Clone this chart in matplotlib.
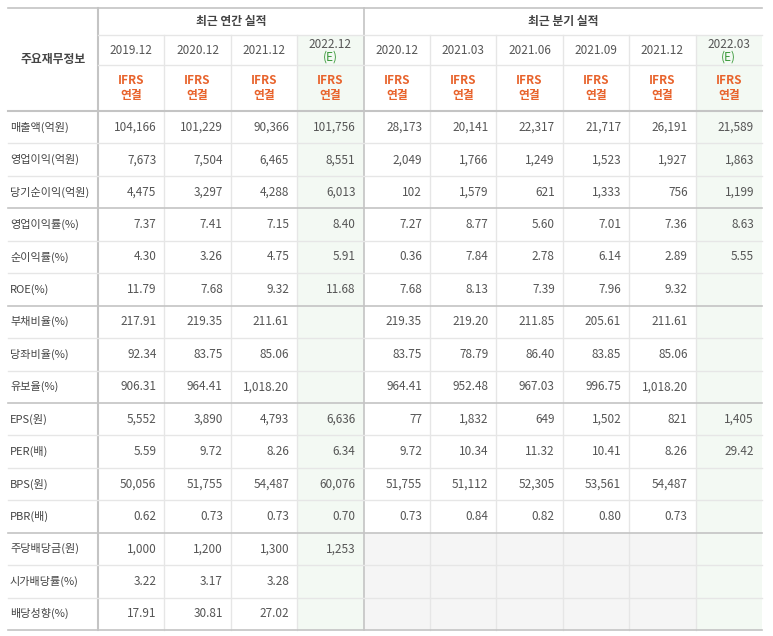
import matplotlib
matplotlib.use("Agg")
import matplotlib.pyplot as plt
from matplotlib import font_manager
from matplotlib.patches import Rectangle

# pick whichever CJK family is actually registered
available = {f.name for f in font_manager.fontManager.ttflist}
cjk = [n for n in ["Noto Sans CJK KR", "Noto Sans CJK JP", "Noto Sans CJK SC", "Noto Sans CJK TC"]
       if n in available]
if not cjk:
    cjk = [f.name for f in font_manager.fontManager.ttflist if "CJK" in f.name][:1]
plt.rcParams["font.family"] = cjk + ["DejaVu Sans"]

annual_periods = ["2019.12", "2020.12", "2021.12", "2022.12"]
quarter_periods = ["2020.12", "2021.03", "2021.06", "2021.09", "2021.12", "2022.03"]
estimate_cols = [3, 9]

row_labels = ["매출액(억원)", "영업이익(억원)", "당기순이익(억원)", "영업이익률(%)", "순이익률(%)",
              "ROE(%)", "부채비율(%)", "당좌비율(%)", "유보율(%)", "EPS(원)", "PER(배)",
              "BPS(원)", "PBR(배)", "주당배당금(원)", "시가배당률(%)", "배당성향(%)"]

values = [
    ["104,166", "101,229", "90,366", "101,756", "28,173", "20,141", "22,317", "21,717", "26,191", "21,589"],
    ["7,673", "7,504", "6,465", "8,551", "2,049", "1,766", "1,249", "1,523", "1,927", "1,863"],
    ["4,475", "3,297", "4,288", "6,013", "102", "1,579", "621", "1,333", "756", "1,199"],
    ["7.37", "7.41", "7.15", "8.40", "7.27", "8.77", "5.60", "7.01", "7.36", "8.63"],
    ["4.30", "3.26", "4.75", "5.91", "0.36", "7.84", "2.78", "6.14", "2.89", "5.55"],
    ["11.79", "7.68", "9.32", "11.68", "7.68", "8.13", "7.39", "7.96", "9.32", ""],
    ["217.91", "219.35", "211.61", "", "219.35", "219.20", "211.85", "205.61", "211.61", ""],
    ["92.34", "83.75", "85.06", "", "83.75", "78.79", "86.40", "83.85", "85.06", ""],
    ["906.31", "964.41", "1,018.20", "", "964.41", "952.48", "967.03", "996.75", "1,018.20", ""],
    ["5,552", "3,890", "4,793", "6,636", "77", "1,832", "649", "1,502", "821", "1,405"],
    ["5.59", "9.72", "8.26", "6.34", "9.72", "10.34", "11.32", "10.41", "8.26", "29.42"],
    ["50,056", "51,755", "54,487", "60,076", "51,755", "51,112", "52,305", "53,561", "54,487", ""],
    ["0.62", "0.73", "0.73", "0.70", "0.73", "0.84", "0.82", "0.80", "0.73", ""],
    ["1,000", "1,200", "1,300", "1,253", None, None, None, None, None, None],
    ["3.22", "3.17", "3.28", "", None, None, None, None, None, None],
    ["17.91", "30.81", "27.02", "", None, None, None, None, None, None],
]
group_breaks = [3, 6, 9, 13]

fig = plt.figure(figsize=(7.73, 6.36), dpi=100)
ax = fig.add_axes([0, 0, 1, 1])
ax.set_xlim(0, 773)
ax.set_ylim(636, 0)
ax.axis("off")

x0, xl, xe = 8, 98, 762
cw = (xe - xl) / 10
col_x = [xl + i * cw for i in range(11)]
y_top, y_h1, y_h2, y_data = 8, 35, 65, 111
rh = (630 - y_data) / len(row_labels)
y_end = y_data + rh * len(row_labels)

green = "#f3f9f3"
line = "#e6e6e6"
dark = "#c4c4c4"
text = "#555555"
orange = "#e8632c"

# shading
for c in estimate_cols:
    ax.add_patch(Rectangle((col_x[c], y_h1), cw, y_end - y_h1, color=green, lw=0))
for r, row in enumerate(values):
    for c, v in enumerate(row):
        if v is None and c not in estimate_cols:
            ax.add_patch(Rectangle((col_x[c], y_data + r * rh), cw, rh, color="#f5f5f5", lw=0))

# grid lines
for c in range(1, 10):
    if c != 4:
        ax.plot([col_x[c]] * 2, [y_h1, y_end], color=line, lw=1)
ax.plot([col_x[0]] * 2, [y_top, y_end], color=dark, lw=1.5)
ax.plot([col_x[4]] * 2, [y_top, y_end], color=dark, lw=1.2)
ax.plot([xl, xe], [y_h1, y_h1], color=line, lw=1)
ax.plot([xl, xe], [y_h2, y_h2], color=line, lw=1)
ax.plot([x0, xe], [y_top, y_top], color=dark, lw=1.2)
ax.plot([x0, xe], [y_data, y_data], color=dark, lw=1.5)
ax.plot([x0, xe], [y_end, y_end], color=dark, lw=1.2)
for r in range(1, len(row_labels)):
    y = y_data + r * rh
    if r in group_breaks:
        ax.plot([x0, xe], [y, y], color=dark, lw=1.2)
    else:
        ax.plot([x0, xe], [y, y], color=line, lw=1)

# headers
ax.text((x0 + xl) / 2, (y_top + y_data) / 2, "주요재무정보", ha="center", va="center",
        fontsize=8.5, fontweight="bold", color="#444444")
ax.text((col_x[0] + col_x[4]) / 2, (y_top + y_h1) / 2, "최근 연간 실적", ha="center", va="center",
        fontsize=8.5, fontweight="bold", color="#444444")
ax.text((col_x[4] + col_x[10]) / 2, (y_top + y_h1) / 2, "최근 분기 실적", ha="center", va="center",
        fontsize=8.5, fontweight="bold", color="#444444")
periods = annual_periods + quarter_periods
for c, p in enumerate(periods):
    cx = col_x[c] + cw / 2
    if c in estimate_cols:
        ax.text(cx, y_h1 + 10, p, ha="center", va="center", fontsize=8.5, color=text)
        ax.text(cx, y_h1 + 22, "(E)", ha="center", va="center", fontsize=8.5, color="#3a9a3a")
    else:
        ax.text(cx, (y_h1 + y_h2) / 2, p, ha="center", va="center", fontsize=8.5, color=text)
    ax.text(cx, y_h2 + 15, "IFRS", ha="center", va="center", fontsize=8.5, fontweight="bold", color=orange)
    ax.text(cx, y_h2 + 30, "연결", ha="center", va="center", fontsize=8.5, fontweight="bold", color=orange)

# body
for r, (lab, row) in enumerate(zip(row_labels, values)):
    cy = y_data + (r + 0.5) * rh
    ax.text(x0 + 2, cy, lab, ha="left", va="center", fontsize=8, color="#444444")
    for c, v in enumerate(row):
        if v:
            ax.text(col_x[c + 1] - 8, cy, v, ha="right", va="center", fontsize=8.5, color=text)

fig.savefig("out.png", dpi=100)
